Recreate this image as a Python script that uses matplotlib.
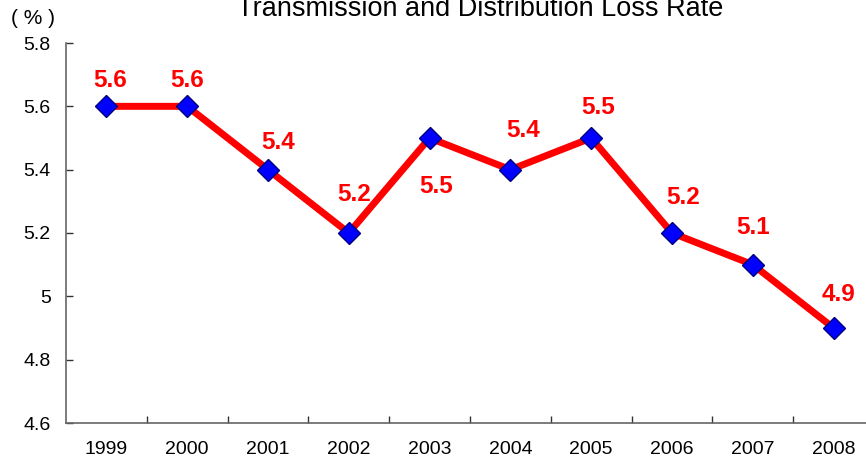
import matplotlib
matplotlib.use("Agg")
import matplotlib.pyplot as plt
from matplotlib.ticker import FixedLocator

years = ["1999", "2000", "2001", "2002", "2003", "2004", "2005", "2006", "2007", "2008"]
loss_rate = [5.6, 5.6, 5.4, 5.2, 5.5, 5.4, 5.5, 5.2, 5.1, 4.9]
y_ticks = [4.6, 4.8, 5.0, 5.2, 5.4, 5.6, 5.8]
y_tick_labels = ["4.6", "4.8", "5", "5.2", "5.4", "5.6", "5.8"]

# label offsets in pixels (dx, dy) relative to each point
label_offsets = [(4, 26), (0, 26), (10, 27), (5, 38), (7, -49),
                 (13, 39), (7, 30), (11, 35), (0, 37), (5, 33)]

plt.rcParams['font.family'] = ['Liberation Sans', 'DejaVu Sans']

fig = plt.figure(figsize=(8.66, 4.62), dpi=100)
ax = fig.add_axes([66 / 866, 1 - 423 / 462, 808 / 866, 380 / 462])

x = list(range(len(years)))
ax.plot(x, loss_rate, color='#ff0000', linewidth=5, zorder=2)
ax.plot(x, loss_rate, linestyle='none', marker='D', markersize=11,
        markerfacecolor='#0000ff', markeredgecolor='#000080', markeredgewidth=1, zorder=3)

for xi, v, (dx, dy) in zip(x, loss_rate, label_offsets):
    ax.annotate(f"{v:.1f}", (xi, v), xytext=(dx * 0.72, dy * 0.72), textcoords='offset points',
                ha='center', va='center', color='#ff0000', fontsize=17.5, fontweight='bold')

ax.set_xlim(-0.5, len(years) - 0.5)
ax.set_ylim(4.6, 5.8)
ax.set_yticks(y_ticks)
ax.set_yticklabels(y_tick_labels)
ax.set_xticks(x)
ax.set_xticklabels(years)
ax.xaxis.set_minor_locator(FixedLocator([i + 0.5 for i in range(len(years) - 1)]))

ax.tick_params(axis='x', which='major', length=0, pad=13, labelsize=14)
ax.tick_params(axis='x', which='minor', direction='in', length=5, width=1, color='#333333')
ax.tick_params(axis='y', direction='in', length=5, width=1, color='#333333', pad=11, labelsize=14)

for side in ('top', 'right'):
    ax.spines[side].set_visible(False)
for side in ('left', 'bottom'):
    ax.spines[side].set_color('#666666')
    ax.spines[side].set_linewidth(1.2)

fig.text(0.555, 1 - 9 / 462, "Transmission and Distribution Loss Rate",
         ha='center', va='center', fontsize=19.5)
fig.text(33 / 866, 1 - 19 / 462, "( % )", ha='center', va='center', fontsize=15)

fig.savefig("out.png", dpi=100)
